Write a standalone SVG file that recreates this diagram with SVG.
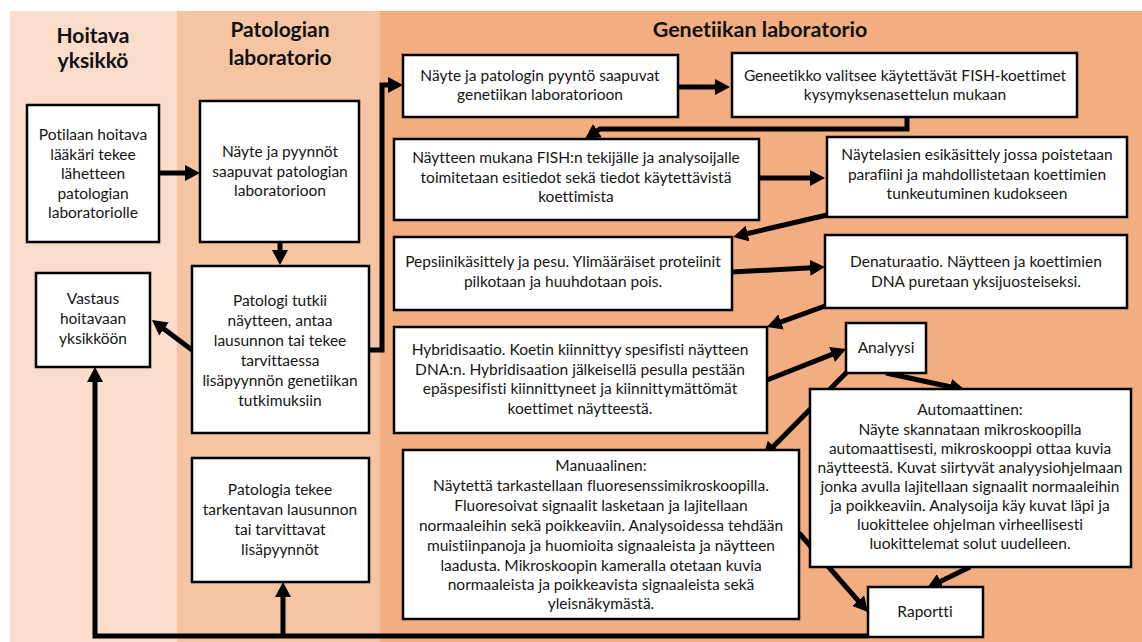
<svg xmlns="http://www.w3.org/2000/svg" width="1142" height="642" viewBox="0 0 1142 642">
<style>
.box{fill:#fff;stroke:#000;stroke-width:2.5}
.t{font-family:Lato,'Liberation Sans',sans-serif;font-size:15.5px;fill:#151515;text-anchor:middle;font-variant-ligatures:none;font-feature-settings:"liga" 0,"dlig" 0}
.h{font-family:Lato,'Liberation Sans',sans-serif;font-weight:bold;font-size:21px;fill:#111;text-anchor:middle;font-variant-ligatures:none;font-feature-settings:"liga" 0,"dlig" 0}
.c{fill:none;stroke:#000;stroke-width:5;marker-end:url(#ah)}
</style>
<defs>
<marker id="ah" markerUnits="userSpaceOnUse" markerWidth="16" markerHeight="16" refX="2" refY="8" orient="auto">
<path d="M0,0 L15,8 L0,16 z" fill="#000"/>
</marker>
</defs>
<rect width="1142" height="642" fill="#fff"/>
<g id="lanes">
<rect x="10" y="11" width="167" height="631" fill="#FADCCA"/>
<rect x="177" y="11" width="203" height="631" fill="#F5C4A3"/>
<rect x="380" y="11" width="762" height="631" fill="#F2AE80"/>
<text class="h" x="93" y="43">Hoitava</text>
<text class="h" x="93" y="68">yksikkö</text>
<text class="h" x="280" y="37">Patologian</text>
<text class="h" x="280" y="65">laboratorio</text>
<text class="h" x="760" y="37" style="font-size:21.5px">Genetiikan laboratorio</text>
</g>
<g id="connectors">
<path class="c" d="M159,173 H187"/>
<path class="c" d="M280,242 V252"/>
<path class="c" d="M192,350 L162.4,327.8"/>
<path class="c" d="M369,350 H382 V85 H390"/>
<path class="c" d="M868,636 H95 V380"/>
<path class="c" d="M283,636 V595"/>
<path class="c" d="M678,87 H717"/>
<path class="c" d="M907,117 V129 H600 L595.8,131.8"/>
<path class="c" d="M759,178 H812"/>
<path class="c" d="M827,215 L745.7,234"/>
<path class="c" d="M732,272 L812,267.7"/>
<path class="c" d="M825,306 L779.2,322.6"/>
<path class="c" d="M767,380 L833.9,353.7"/>
<path class="c" d="M847,372 L772.1,447.8"/>
<path class="c" d="M886,373 L952.3,387.3"/>
<path class="c" d="M799,533 L859.4,602.2"/>
<path class="c" d="M970,567 L938.7,582.3"/>
</g>
<g id="n1">
<rect class="box" x="27" y="105" width="132" height="137"/>
<text class="t" x="93" y="140">Potilaan hoitava</text>
<text class="t" x="93" y="159.5">lääkäri tekee</text>
<text class="t" x="93" y="179">lähetteen</text>
<text class="t" x="93" y="198.5">patologian</text>
<text class="t" x="93" y="218">laboratoriolle</text>
</g>
<g id="n2">
<rect class="box" x="200" y="101" width="159" height="141"/>
<text class="t" x="280" y="157">Näyte ja pyynnöt</text>
<text class="t" x="280" y="176.5">saapuvat patologian</text>
<text class="t" x="280" y="196">laboratorioon</text>
</g>
<g id="n3">
<rect class="box" x="192" y="266" width="177" height="167"/>
<text class="t" x="280" y="306">Patologi tutkii</text>
<text class="t" x="280" y="326">näytteen, antaa</text>
<text class="t" x="280" y="346">lausunnon tai tekee</text>
<text class="t" x="280" y="366">tarvittaessa</text>
<text class="t" x="280" y="386">lisäpyynnön genetiikan</text>
<text class="t" x="280" y="406">tutkimuksiin</text>
</g>
<g id="n4">
<rect class="box" x="36" y="273" width="114" height="94"/>
<text class="t" x="93" y="304">Vastaus</text>
<text class="t" x="93" y="324">hoitavaan</text>
<text class="t" x="93" y="344">yksikköön</text>
</g>
<g id="n5">
<rect class="box" x="192" y="458" width="177" height="124"/>
<text class="t" x="280" y="495">Patologia tekee</text>
<text class="t" x="280" y="515">tarkentavan lausunnon</text>
<text class="t" x="280" y="535">tai tarvittavat</text>
<text class="t" x="280" y="555">lisäpyynnöt</text>
</g>
<g id="g1">
<rect class="box" x="403" y="55" width="275" height="62"/>
<text class="t" x="540" y="81">Näyte ja patologin pyyntö saapuvat</text>
<text class="t" x="540" y="100">genetiikan laboratorioon</text>
</g>
<g id="g2">
<rect class="box" x="732" y="53" width="345" height="64"/>
<text class="t" x="905" y="81">Geneetikko valitsee käytettävät FISH-koettimet</text>
<text class="t" x="905" y="100">kysymyksenasettelun mukaan</text>
</g>
<g id="g3">
<rect class="box" x="394" y="139" width="365" height="81"/>
<text class="t" x="576" y="163">Näytteen mukana FISH:n tekijälle ja analysoijalle</text>
<text class="t" x="576" y="183">toimitetaan esitiedot sekä tiedot käytettävistä</text>
<text class="t" x="576" y="202">koettimista</text>
</g>
<g id="g4">
<rect class="box" x="827" y="137" width="300" height="80"/>
<text class="t" x="977" y="160">Näytelasien esikäsittely jossa poistetaan</text>
<text class="t" x="977" y="180">parafiini ja mahdollistetaan koettimien</text>
<text class="t" x="977" y="199">tunkeutuminen kudokseen</text>
</g>
<g id="g5">
<rect class="box" x="394" y="237" width="338" height="73"/>
<text class="t" x="563" y="267">Pepsiinikäsittely ja pesu. Ylimääräiset proteiinit</text>
<text class="t" x="563" y="287">pilkotaan ja huuhdotaan pois.</text>
</g>
<g id="g6">
<rect class="box" x="825" y="235" width="302" height="73"/>
<text class="t" x="976" y="267">Denaturaatio. Näytteen ja koettimien</text>
<text class="t" x="976" y="287">DNA puretaan yksijuosteiseksi.</text>
</g>
<g id="g7">
<rect class="box" x="394" y="327" width="373" height="106"/>
<text class="t" x="580" y="355">Hybridisaatio. Koetin kiinnittyy spesifisti näytteen</text>
<text class="t" x="580" y="374.5">DNA:n. Hybridisaation jälkeisellä pesulla pestään</text>
<text class="t" x="580" y="394">epäspesifisti kiinnittyneet ja kiinnittymättömät</text>
<text class="t" x="580" y="413.5">koettimet näytteestä.</text>
</g>
<g id="analyysi">
<rect class="box" x="846" y="323" width="80" height="50"/>
<text class="t" x="886" y="353">Analyysi</text>
</g>
<g id="auto">
<rect class="box" x="810" y="389" width="321" height="178"/>
<text class="t" x="970" y="415">Automaattinen:</text>
<text class="t" x="970" y="434.5">Näyte skannataan mikroskoopilla</text>
<text class="t" x="970" y="453.5">automaattisesti, mikroskooppi ottaa kuvia</text>
<text class="t" x="970" y="472.5">näytteestä. Kuvat siirtyvät analyysiohjelmaan</text>
<text class="t" x="970" y="491.5">jonka avulla lajitellaan  signaalit normaaleihin</text>
<text class="t" x="970" y="510.5">ja poikkeaviin. Analysoija käy kuvat läpi ja</text>
<text class="t" x="970" y="529.5">luokittelee  ohjelman virheellisesti</text>
<text class="t" x="970" y="548.5">luokittelemat solut uudelleen.</text>
</g>
<g id="manual">
<rect class="box" x="403" y="450" width="396" height="169"/>
<text class="t" x="601" y="471">Manuaalinen:</text>
<text class="t" x="601" y="491">Näytettä tarkastellaan fluoresenssimikroskoopilla.</text>
<text class="t" x="601" y="511">Fluoresoivat signaalit lasketaan ja lajitellaan</text>
<text class="t" x="601" y="531">normaaleihin sekä poikkeaviin. Analysoidessa tehdään</text>
<text class="t" x="601" y="551">muistiinpanoja ja huomioita signaaleista ja näytteen</text>
<text class="t" x="601" y="571">laadusta. Mikroskoopin kameralla otetaan kuvia</text>
<text class="t" x="601" y="590">normaaleista ja poikkeavista signaaleista sekä</text>
<text class="t" x="601" y="609">yleisnäkymästä.</text>
</g>
<g id="raportti">
<rect class="box" x="868" y="587" width="115" height="50"/>
<text class="t" x="925" y="617">Raportti</text>
</g>
</svg>
